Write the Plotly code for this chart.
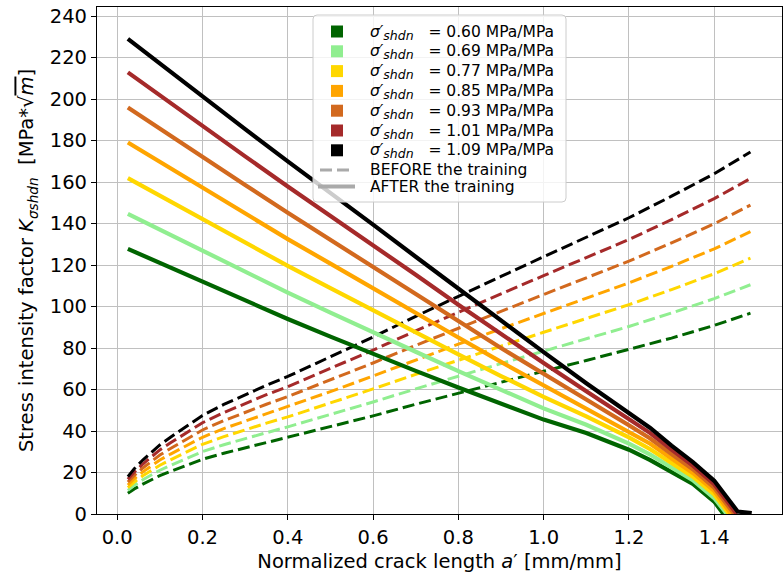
import plotly.graph_objects as go

sigmas = ["0.60", "0.69", "0.77", "0.85", "0.93", "1.01", "1.09"]
colors = ["#006400", "#90EE90", "#FFD700", "#FFA500", "#D2691E", "#A52A2A", "#000000"]

# BEFORE the training (dashed)
x_before = [0.025, 0.04, 0.06, 0.08, 0.1, 0.125, 0.15, 0.2, 0.25, 0.3, 0.35, 0.4, 0.5, 0.6,
            0.7, 0.8, 0.9, 1.0, 1.1, 1.2, 1.3, 1.4, 1.485]
k_before_060 = [10.0, 12.1, 14.4, 16.5, 18.5, 20.5, 22.5, 26.4, 29.3, 31.9, 34.4, 36.8, 42.0, 47.3,
                52.9, 58.3, 63.5, 68.8, 74.0, 79.3, 84.8, 90.9, 96.8]
k_before_069 = [11.4, 13.8, 16.5, 18.9, 21.1, 23.4, 25.6, 30.1, 33.4, 36.4, 39.2, 42.0, 47.9, 54.0,
                60.3, 66.5, 72.5, 78.5, 84.4, 90.4, 96.9, 103.8, 110.5]
k_before_077 = [12.7, 15.4, 18.4, 21.1, 23.5, 26.1, 28.6, 33.6, 37.3, 40.6, 43.8, 46.8, 53.5, 60.3,
                67.3, 74.2, 80.9, 87.6, 94.2, 100.9, 108.2, 115.8, 123.3]
k_before_085 = [14.0, 17.0, 20.3, 23.2, 26.0, 28.9, 31.6, 37.0, 41.2, 44.8, 48.3, 51.7, 59.0, 66.5,
                74.3, 81.9, 89.3, 96.7, 103.9, 111.4, 119.4, 127.8, 136.1]
k_before_093 = [15.4, 18.6, 22.2, 25.4, 28.4, 31.6, 34.6, 40.5, 45.0, 49.1, 52.9, 56.6, 64.6, 72.8,
                81.3, 89.6, 97.7, 105.8, 113.7, 121.9, 130.7, 139.9, 148.9]
k_before_101 = [16.7, 20.2, 24.1, 27.6, 30.9, 34.3, 37.5, 44.0, 48.9, 53.3, 57.5, 61.4, 70.1, 79.0,
                88.3, 97.3, 106.1, 114.9, 123.5, 132.3, 141.9, 152.0, 161.7]
k_before_109 = [18.0, 21.8, 26.0, 29.8, 33.3, 37.0, 40.5, 47.5, 52.8, 57.5, 62.0, 66.3, 75.7, 85.3,
                95.3, 105.0, 114.5, 124.0, 133.3, 142.8, 153.2, 164.0, 174.5]

# AFTER the training (solid)
x_after_060 = [0.025, 0.1, 0.2, 0.3, 0.4, 0.5, 0.6, 0.7, 0.8, 0.9, 1.0, 1.1, 1.2, 1.25, 1.3, 1.35, 1.4, 1.422]
k_after_060 = [127.8, 121.0, 112.0, 103.0, 94.0, 85.5, 77.0, 69.0, 61.0, 53.0, 45.5, 39.0, 31.0, 26.0, 20.5, 14.5, 6.0, 0.0]
x_after_069 = [0.025, 0.1, 0.2, 0.3, 0.4, 0.5, 0.6, 0.7, 0.8, 0.9, 1.0, 1.1, 1.2, 1.25, 1.3, 1.35, 1.4, 1.43]
k_after_069 = [144.7, 137.0, 126.9, 116.8, 106.7, 97.1, 87.4, 78.2, 68.9, 59.7, 50.9, 43.0, 33.9, 28.6, 22.6, 16.3, 7.7, 0.0]
x_after_077 = [0.025, 0.1, 0.2, 0.3, 0.4, 0.5, 0.6, 0.7, 0.8, 0.9, 1.0, 1.1, 1.2, 1.25, 1.3, 1.35, 1.4, 1.435]
k_after_077 = [161.9, 153.4, 142.0, 130.8, 119.6, 108.9, 98.1, 87.5, 77.0, 66.5, 56.5, 47.1, 36.9, 31.2, 24.7, 18.0, 9.4, 0.0]
x_after_085 = [0.025, 0.1, 0.2, 0.3, 0.4, 0.5, 0.6, 0.7, 0.8, 0.9, 1.0, 1.1, 1.2, 1.25, 1.3, 1.35, 1.4, 1.44]
k_after_085 = [179.1, 169.7, 157.1, 144.8, 132.5, 120.7, 108.7, 96.9, 85.1, 73.3, 62.0, 51.2, 39.9, 33.9, 26.8, 19.8, 11.1, 0.0]
x_after_093 = [0.025, 0.1, 0.2, 0.3, 0.4, 0.5, 0.6, 0.7, 0.8, 0.9, 1.0, 1.1, 1.2, 1.25, 1.3, 1.35, 1.4, 1.447]
k_after_093 = [196.0, 185.7, 172.0, 158.6, 145.2, 132.3, 119.1, 106.1, 93.0, 80.0, 67.4, 55.2, 42.8, 36.4, 28.9, 21.6, 12.7, 0.0]
x_after_101 = [0.025, 0.1, 0.2, 0.3, 0.4, 0.5, 0.6, 0.7, 0.8, 0.9, 1.0, 1.1, 1.2, 1.25, 1.3, 1.35, 1.4, 1.453]
k_after_101 = [212.9, 201.7, 186.8, 172.4, 157.9, 143.9, 129.6, 115.3, 100.9, 86.6, 72.8, 59.2, 45.7, 39.0, 31.0, 23.3, 14.4, 0.0]
x_after_109 = [0.025, 0.1, 0.2, 0.3, 0.4, 0.5, 0.6, 0.7, 0.8, 0.9, 1.0, 1.1, 1.2, 1.25, 1.3, 1.35, 1.4, 1.455, 1.488]
k_after_109 = [229.0, 217.0, 201.0, 185.5, 170.0, 155.0, 139.5, 124.0, 108.5, 93.0, 78.0, 63.0, 48.5, 41.5, 33.0, 25.0, 16.0, 1.2, 0.4]

before = [k_before_060, k_before_069, k_before_077, k_before_085, k_before_093, k_before_101, k_before_109]
after_x = [x_after_060, x_after_069, x_after_077, x_after_085, x_after_093, x_after_101, x_after_109]
after_k = [k_after_060, k_after_069, k_after_077, k_after_085, k_after_093, k_after_101, k_after_109]

NB = "\u00a0"
legend_labels = [f"<i>σ′<sub><span style='font-size:12.5px'>shdn</span></sub></i>{NB}{NB}{NB}= {s} MPa/MPa"
                 for s in sigmas]
legend_before = "BEFORE the training"
legend_after = "AFTER the training"

FONT = "DejaVu Sans"
W, H = 783, 581
ML, MR, MT, MB = 97, 1, 7, 67
PW, PH = W - ML - MR, H - MT - MB


def px(xp):
    return (xp - ML) / PW


def py(yp):
    return (MT + PH - yp) / PH


fig = go.Figure()

for k, c in zip(before, colors):
    fig.add_trace(go.Scatter(x=x_before, y=k, mode="lines", showlegend=False,
                             line=dict(color=c, width=3, dash="12px,5px")))
for xs, k, c in zip(after_x, after_k, colors):
    fig.add_trace(go.Scatter(x=xs, y=k, mode="lines", showlegend=False,
                             line=dict(color=c, width=4.2)))

# ---- manual legend (layout shapes + annotations) ----
shapes = []
annotations = []
bx0, bx1, by0, by1, r = 313, 566, 15, 202, 4
x0, x1 = px(bx0), px(bx1)
yt, yb = py(by0), py(by1)
rx, ry = r / PW, r / PH
path = (f"M {x0+rx},{yt} L {x1-rx},{yt} Q {x1},{yt} {x1},{yt-ry} "
        f"L {x1},{yb+ry} Q {x1},{yb} {x1-rx},{yb} L {x0+rx},{yb} "
        f"Q {x0},{yb} {x0},{yb+ry} L {x0},{yt-ry} Q {x0},{yt} {x0+rx},{yt} Z")
shapes.append(dict(type="path", xref="paper", yref="paper", path=path,
                   fillcolor="rgba(255,255,255,0.8)", line=dict(color="#cccccc", width=1),
                   layer="above"))
row_y0, row_dy = 31.5, 19.8
for i, (lab, c) in enumerate(zip(legend_labels, colors)):
    yc = row_y0 + i * row_dy
    shapes.append(dict(type="rect", xref="paper", yref="paper",
                       x0=px(331), x1=px(343), y0=py(yc + 6), y1=py(yc - 6),
                       fillcolor=c, line=dict(width=0), layer="above"))
    annotations.append(dict(xref="paper", yref="paper", x=px(368), y=py(yc + 1),
                            xanchor="left", yanchor="middle", showarrow=False,
                            text=lab, font=dict(family=FONT, size=15.5, color="black")))
y_bef, y_aft = 170.0, 186.5
shapes.append(dict(type="line", xref="paper", yref="paper", x0=px(320), x1=px(353),
                   y0=py(y_bef), y1=py(y_bef), layer="above",
                   line=dict(color="#aaaaaa", width=3, dash="12px,5px")))
shapes.append(dict(type="line", xref="paper", yref="paper", x0=px(318), x1=px(355),
                   y0=py(y_aft), y1=py(y_aft), layer="above",
                   line=dict(color="#aaaaaa", width=4.2)))
for txt, yc in [(legend_before, y_bef), (legend_after, y_aft)]:
    annotations.append(dict(xref="paper", yref="paper", x=px(368), y=py(yc),
                            xanchor="left", yanchor="middle", showarrow=False,
                            text=txt, font=dict(family=FONT, size=15.5, color="black")))

axis_common = dict(showline=True, linecolor="black", linewidth=1.2, mirror=True,
                   showgrid=True, gridcolor="#c0c0c0", gridwidth=1.2,
                   ticks="outside", ticklen=5, tickcolor="black", tickwidth=1.2,
                   tickfont=dict(family=FONT, size=19.5, color="black"),
                   zeroline=False)

fig.update_layout(
    width=W, height=H,
    margin=dict(l=ML, r=MR, t=MT, b=MB),
    paper_bgcolor="white", plot_bgcolor="white",
    font=dict(family=FONT, size=15, color="black"),
    showlegend=False,
    xaxis=dict(range=[-0.0474, 1.559], tickvals=[0, 0.2, 0.4, 0.6, 0.8, 1.0, 1.2, 1.4],
               tickformat=".1f",
               title=dict(text="Normalized crack length <i>a</i>′ [mm/mm]",
                          font=dict(family=FONT, size=19.5), standoff=6),
               **axis_common),
    yaxis=dict(range=[0, 244.4], tickvals=list(range(0, 241, 20)),
               title=dict(text="Stress intensity factor <i>K<sub>σshdn</sub></i>  [MPa*√<span style='text-decoration:overline'><i>m</i></span>]",
                          font=dict(family=FONT, size=19.5), standoff=10),
               **axis_common),
    shapes=shapes,
    annotations=annotations,
)

fig.write_html("out.html")
